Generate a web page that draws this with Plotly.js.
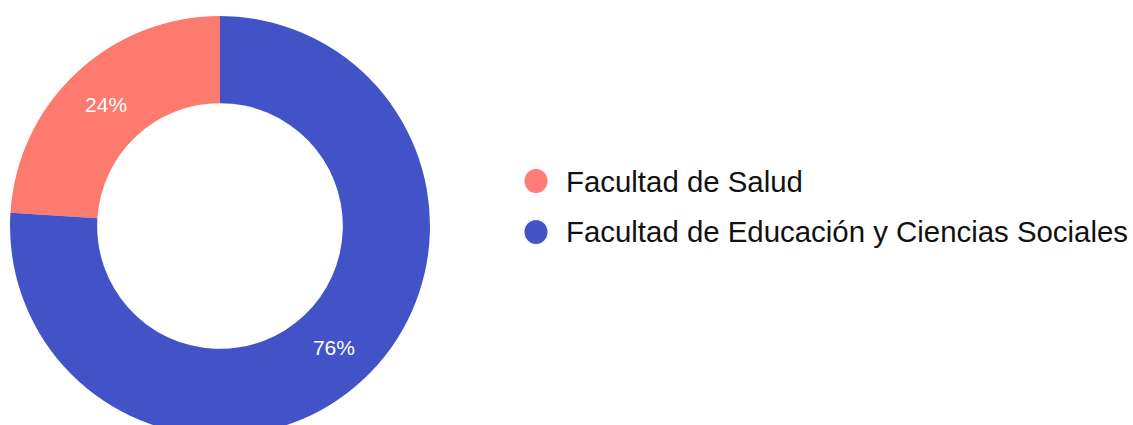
<!DOCTYPE html>
<html>
<head>
<meta charset="utf-8">
<script src="https://cdn.plot.ly/plotly-3.0.1.min.js"></script>
<style>
html,body{margin:0;padding:0;background:#fff;overflow:hidden;}
#chart{width:1133px;height:436px;}
</style>
</head>
<body>
<div id="chart"></div>
<script>
const labels = ["Facultad de Salud", "Facultad de Educación y Ciencias Sociales"];
const values = [24, 76];
const sliceColors = ["#FD7A6E", "#4253C8"];
const legendColors = ["#FF7C78", "#4254C6"];

const W = 1133, H = 436, T = 16;
const pyToPaper = (py) => (H - py) / (H - T);
const total = values.reduce((a, b) => a + b, 0);

const shapes = [];
const annotations = [];
const rowY = [181, 232];
labels.forEach((lab, i) => {
  shapes.push({
    type: "circle", xref: "paper", yref: "paper",
    xsizemode: "pixel", ysizemode: "pixel",
    xanchor: 536 / W, yanchor: pyToPaper(rowY[i]),
    x0: -11.5, x1: 11.5, y0: -12, y1: 12,
    fillcolor: legendColors[i], line: {width: 0}
  });
  annotations.push({
    xref: "paper", yref: "paper", x: 564 / W, y: pyToPaper(rowY[i]),
    xanchor: "left", yanchor: "middle", showarrow: false,
    text: lab,
    font: {family: "Liberation Sans, Arial, sans-serif", size: 29.4, color: "#111"}
  });
});

const data = [{
  type: "pie",
  labels: labels,
  values: values,
  sort: false,
  direction: "clockwise",
  rotation: -values[0] / total * 360,
  hole: 0.585,
  marker: {colors: sliceColors, line: {width: 0}},
  textinfo: "percent",
  texttemplate: "%{percent:.0%}",
  textposition: "inside",
  insidetextorientation: "horizontal",
  textfont: {family: "Liberation Sans, Arial, sans-serif", size: 21, color: "#fff"},
  domain: {x: [10 / W, 430 / W], y: [0, 1]},
  showlegend: false,
  hoverinfo: "none"
}];

const layout = {
  width: W, height: H,
  margin: {l: 0, r: 0, t: T, b: 0, pad: 0},
  paper_bgcolor: "#fff",
  plot_bgcolor: "#fff",
  showlegend: false,
  shapes: shapes,
  annotations: annotations
};

Plotly.newPlot("chart", data, layout, {displayModeBar: false, staticPlot: true});
</script>
</body>
</html>
